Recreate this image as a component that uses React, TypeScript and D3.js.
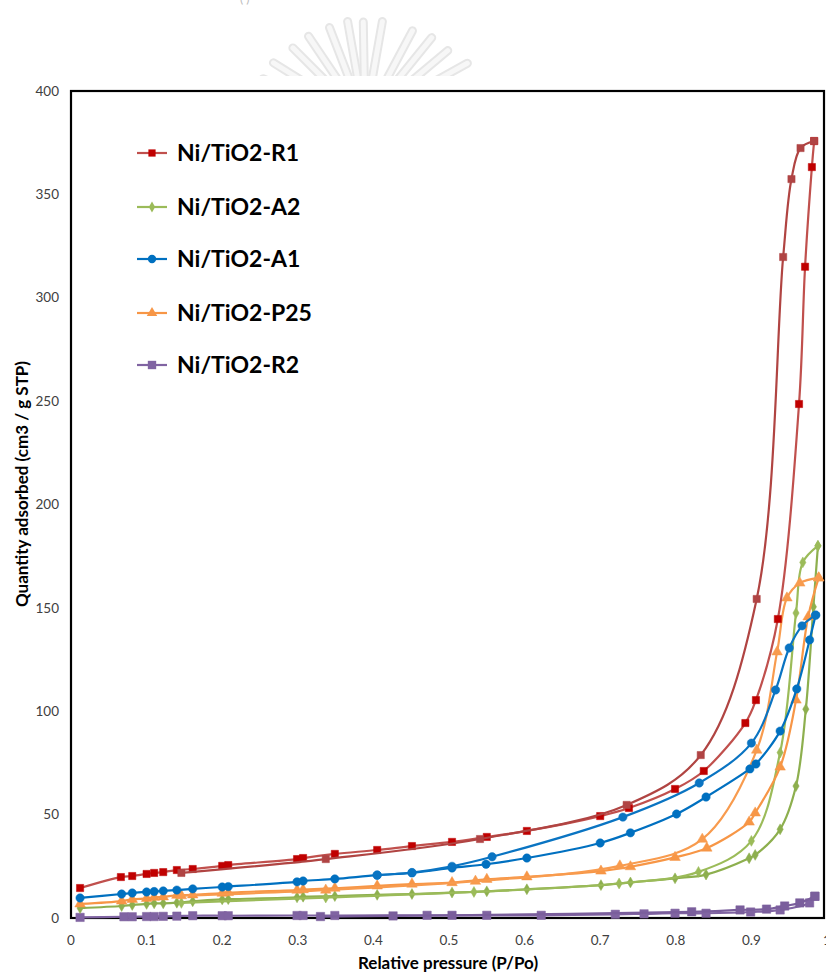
import React from "react";
import * as d3 from "d3";

type P = [number, number];

const X_TICKS = [0, 0.1, 0.2, 0.3, 0.4, 0.5, 0.6, 0.7, 0.8, 0.9, 1];
const X_TICK_LABELS = ["0", "0.1", "0.2", "0.3", "0.4", "0.5", "0.6", "0.7", "0.8", "0.9", "1"];
const Y_TICKS = [0, 50, 100, 150, 200, 250, 300, 350, 400];

const SERIES_NAMES = ["Ni/TiO2-R1", "Ni/TiO2-A2", "Ni/TiO2-A1", "Ni/TiO2-P25", "Ni/TiO2-R2"];

const R1_ADS: P[] = [[0.012,14.5],[0.066,19.8],[0.081,20.3],[0.1,21.3],[0.11,21.8],[0.122,22.2],[0.14,23.2],[0.161,23.7],[0.2,25.2],[0.208,25.6],[0.299,28.5],[0.307,29.0],[0.349,31],[0.405,32.9],[0.451,34.8],[0.504,36.8],[0.55,39.2],[0.603,42.1],[0.7,49.3],[0.738,53.2],[0.799,62.4],[0.837,71.1],[0.892,94.3],[0.906,105.4],[0.935,144.6],[0.963,248.6],[0.971,315],[0.98,363.2],[0.983,375.8]];
const R1_DES: P[] = [[0.983,375.8],[0.965,372.4],[0.953,357.4],[0.942,319.7],[0.907,154.3],[0.833,78.8],[0.735,54.7],[0.541,38.2],[0.337,28.5],[0.146,21.8]];

const A2_ADS: P[] = [[0.012,4.8],[0.067,5.8],[0.081,6.3],[0.1,6.8],[0.11,7.1],[0.122,7.1],[0.14,7.4],[0.161,8.1],[0.2,9.0],[0.208,9.1],[0.299,10.0],[0.307,10.3],[0.349,10.6],[0.405,11.2],[0.451,11.6],[0.504,12.3],[0.55,12.9],[0.603,13.9],[0.701,15.9],[0.74,17.2],[0.799,19.2],[0.84,21.0],[0.897,28.9],[0.905,30.5],[0.938,42.9],[0.959,63.8],[0.972,101],[0.982,150.5],[0.988,180]];
const A2_DES: P[] = [[0.988,180],[0.968,172],[0.959,147.5],[0.938,80],[0.9,37.3],[0.83,22.3],[0.725,16.7],[0.533,12.6],[0.337,9.9],[0.146,7.3]];

const A1_ADS: P[] = [[0.012,9.7],[0.067,11.6],[0.081,12.1],[0.1,12.6],[0.11,12.8],[0.122,13.1],[0.14,13.5],[0.161,14.1],[0.2,15.0],[0.208,15.2],[0.299,17.5],[0.307,17.9],[0.349,18.9],[0.405,20.7],[0.451,21.8],[0.504,24.2],[0.549,26.0],[0.603,29.0],[0.7,36.3],[0.74,41.2],[0.801,50.3],[0.84,58.5],[0.898,72.1],[0.906,74.5],[0.938,90.4],[0.96,110.8],[0.977,134.5],[0.985,146.5]];
const A1_DES: P[] = [[0.985,146.5],[0.967,141.3],[0.95,130.6],[0.932,110.3],[0.9,84.6],[0.831,65.3],[0.73,48.8],[0.557,29.6],[0.504,25.0],[0.451,22.0],[0.405,20.8]];

const P25_ADS: P[] = [[0.012,6.8],[0.067,8.2],[0.081,9.0],[0.1,9.5],[0.11,10.0],[0.122,10.2],[0.14,11.0],[0.161,11.2],[0.2,12.0],[0.208,12.3],[0.299,13.5],[0.307,13.7],[0.349,14.4],[0.405,15.5],[0.451,16.4],[0.504,17.1],[0.55,18.7],[0.603,19.9],[0.701,22.7],[0.74,24.8],[0.799,29.3],[0.841,33.8],[0.897,46.4],[0.905,50.8],[0.938,73],[0.959,105.4],[0.975,145.6],[0.989,164.5]];
const P25_DES: P[] = [[0.989,164.5],[0.964,162],[0.947,154.8],[0.934,128.7],[0.907,81.2],[0.835,38.1],[0.726,25.2],[0.535,17.8],[0.337,13.5],[0.146,10.8]];

const R2_ADS: P[] = [[0.012,0.3],[0.07,0.6],[0.081,0.6],[0.1,0.7],[0.11,0.7],[0.122,0.8],[0.14,0.9],[0.161,1.1],[0.2,1.1],[0.208,1.1],[0.299,1.2],[0.307,1.2],[0.349,1.2],[0.471,1.3],[0.55,1.3],[0.622,1.3],[0.72,1.8],[0.758,2.0],[0.799,2.3],[0.84,2.3],[0.899,2.9],[0.938,3.9],[0.977,7.3],[0.984,10.5]];
const R2_DES: P[] = [[0.984,10.5],[0.964,7.3],[0.944,5.8],[0.92,4.3],[0.885,3.9],[0.821,3.0],[0.504,1.3],[0.426,1.0],[0.33,0.7]];

const FAN_ANGLES = [-68, -58, -45, -34, -21, -10, -1, 10, 28, 39, 50, 61, 72];
const FAN_LENGTHS = [110, 108, 102, 101, 99, 100, 98, 100, 101, 106, 108, 117, 110];

const W = 826, H = 972;
const L = 71, T = 91, B = 918, R = 824;

const x = d3.scaleLinear().domain([0, 1]).range([L, 827]);
const y = d3.scaleLinear().domain([0, 400]).range([B, T]);

const FONT = "Lato, 'Open Sans', 'Liberation Sans', sans-serif";

interface Branch { pts: P[]; line: string; marker: string; }
interface Series { name: string; symbol: d3.SymbolType; size: number; ads: Branch; des: Branch; legendLine: string; legendMarker: string; }

const series: Series[] = [
  { name: SERIES_NAMES[4], symbol: d3.symbolSquare, size: 70, ads: { pts: R2_ADS, line: "#8064A2", marker: "#8064A2" }, des: { pts: R2_DES, line: "#7a5e9c", marker: "#7a5e9c" }, legendLine: "#8064A2", legendMarker: "#8064A2" },
  { name: SERIES_NAMES[1], symbol: d3.symbolDiamond, size: 34, ads: { pts: A2_ADS, line: "#8DAF4E", marker: "#8DAF4E" }, des: { pts: A2_DES, line: "#9BBB59", marker: "#9BBB59" }, legendLine: "#9BBB59", legendMarker: "#9BBB59" },
  { name: SERIES_NAMES[3], symbol: d3.symbolTriangle, size: 48, ads: { pts: P25_ADS, line: "#F79646", marker: "#F79646" }, des: { pts: P25_DES, line: "#F89B4E", marker: "#F89B4E" }, legendLine: "#F79646", legendMarker: "#F79646" },
  { name: SERIES_NAMES[2], symbol: d3.symbolCircle, size: 55, ads: { pts: A1_ADS, line: "#0070C0", marker: "#0070C0" }, des: { pts: A1_DES, line: "#0A74C2", marker: "#0A74C2" }, legendLine: "#0070C0", legendMarker: "#0070C0" },
  { name: SERIES_NAMES[0], symbol: d3.symbolSquare, size: 52, ads: { pts: R1_ADS, line: "#C0504D", marker: "#C00000" }, des: { pts: R1_DES, line: "#B04442", marker: "#B04444" }, legendLine: "#C0504D", legendMarker: "#C00000" },
];

const legendOrder = [4, 1, 3, 2, 0];
const LEGEND_Y = [153, 207, 259, 313, 365];

const lineGen = d3.line<P>().x(d => x(d[0])).y(d => y(d[1])).curve(d3.curveCatmullRom.alpha(0.5));

function BranchMarks({ b, s }: { b: Branch; s: Series }) {
  const sym = d3.symbol().type(s.symbol).size(s.size)() || "";
  return (
    <g>
      <path d={lineGen(b.pts) || ""} fill="none" stroke={b.line} strokeWidth={2.2} />
      {b.pts.map((p, i) => (
        <path key={i} d={sym} transform={`translate(${x(p[0])},${y(p[1])})`} fill={b.marker} stroke={b.marker} strokeOpacity={0.5} strokeWidth={1} />
      ))}
    </g>
  );
}

export default function App() {
  const fanCx = 365, fanCy = 120;
  return (
    <svg width={W} height={H} style={{ position: "absolute", left: 0, top: 0, background: "#fff" }} xmlns="http://www.w3.org/2000/svg">
      <rect x={0} y={0} width={W} height={H} fill="#fff" />
      <defs>
        <clipPath id="fanclip"><rect x={0} y={0} width={W} height={76} /></clipPath>
      </defs>
      {/* watermark */}
      <g clipPath="url(#fanclip)">
        {FAN_ANGLES.map((a, i) => {
          const rad = (a * Math.PI) / 180;
          const r0 = 40, r1 = FAN_LENGTHS[i];
          const x0 = fanCx + r0 * Math.sin(rad), y0 = fanCy - r0 * Math.cos(rad);
          const x1 = fanCx + r1 * Math.sin(rad), y1 = fanCy - r1 * Math.cos(rad);
          return (
            <g key={i}>
              <line x1={x0} y1={y0} x2={x1} y2={y1} stroke="#e6e6e6" strokeWidth={9} strokeLinecap="round" />
              <line x1={x0} y1={y0} x2={x1} y2={y1} stroke="#f7f7f7" strokeWidth={5} strokeLinecap="round" />
            </g>
          );
        })}
      </g>
      <text x={240} y={3} fontFamily={FONT} fontSize={12} fill="#bbb">(   )</text>

      {/* frame */}
      <rect x={L} y={T} width={R - L} height={B - T} fill="none" stroke="#000" strokeWidth={2.2} />

      {/* y ticks */}
      {Y_TICKS.map(v => (
        <text key={v} x={59} y={y(v)} dy="0.35em" textAnchor="end" fontFamily={FONT} fontSize={13.5} fill="#404040">{v}</text>
      ))}
      {/* x ticks */}
      {X_TICKS.map((v, i) => (
        <text key={v} x={x(v)} y={945} textAnchor="middle" fontFamily={FONT} fontSize={13.5} fill="#404040">{X_TICK_LABELS[i]}</text>
      ))}

      <text x={448} y={969} textAnchor="middle" fontFamily={FONT} fontWeight="bold" fontSize={17} fill="#000">Relative pressure (P/Po)</text>
      <text transform="translate(28,484) rotate(-90)" textAnchor="middle" fontFamily={FONT} fontWeight="bold" fontSize={17} fill="#000">Quantity adsorbed (cm3 / g STP)</text>

      {/* series */}
      {series.map((s, i) => (
        <g key={i}>
          <BranchMarks b={s.ads} s={s} />
          <BranchMarks b={s.des} s={s} />
        </g>
      ))}

      {/* legend */}
      {legendOrder.map((si, i) => {
        const s = series[si];
        const ly = LEGEND_Y[i];
        const sym = d3.symbol().type(s.symbol).size(s.size)() || "";
        return (
          <g key={i}>
            <line x1={137} x2={167} y1={ly} y2={ly} stroke={s.legendLine} strokeWidth={2.2} />
            <path d={sym} transform={`translate(152,${ly})`} fill={s.legendMarker} />
            <text x={177} y={ly} dy="0.36em" fontFamily={FONT} fontWeight="bold" fontSize={23} fill="#000">{s.name}</text>
          </g>
        );
      })}
    </svg>
  );
}
